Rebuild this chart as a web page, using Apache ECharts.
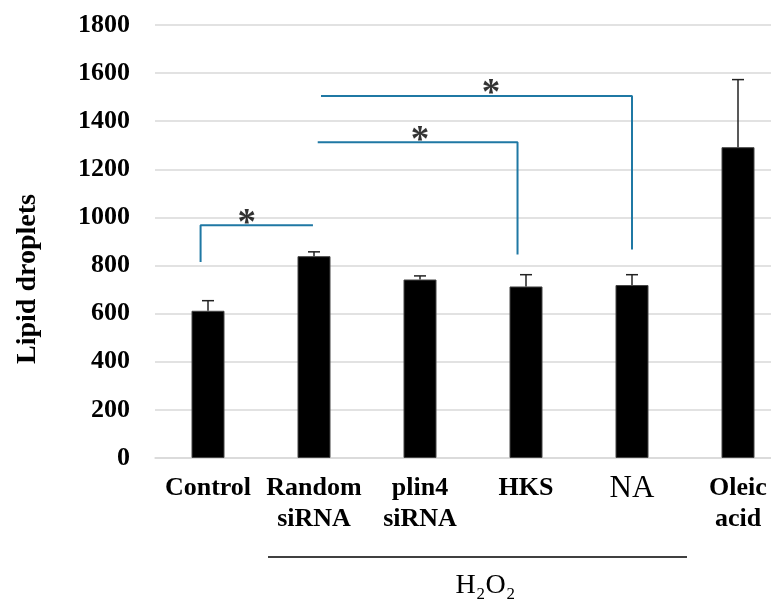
<!DOCTYPE html>
<html>
<head>
<meta charset="utf-8">
<script src="https://cdn.jsdelivr.net/npm/echarts@6/dist/echarts.min.js"></script>
<style>
  html, body { margin: 0; padding: 0; background: #fff; overflow: hidden; }
  /* plot area runs past the right edge in the original, so the canvas is a bit wider than the window */
  #chart { width: 791px; height: 607px; }
</style>
</head>
<body>
<div id="chart"></div>
<script>
const categories = ['Control', 'Random\nsiRNA', 'plin4\nsiRNA', 'HKS', 'NA', 'Oleic\nacid'];
const droplets = [612, 839, 742, 713, 719, 1292];
const errors = [42, 18, 15, 49, 43, 281];
const yTicks = { min: 0, max: 1800, interval: 200 };

// significance brackets, x in category units (0 = Control)
const bracketControl = [[-0.07, 815], [-0.07, 968], [0.99, 968]];
const bracketHKS = [[1.035, 1313], [2.92, 1313], [2.92, 846]];
const bracketNA = [[1.066, 1505], [4.0, 1505], [4.0, 867]];
const stars = [[0.365, 1009], [2.0, 1353], [2.67, 1548]];
const groupLabel = 'H₂O₂';

const serif = "'Liberation Serif', 'Times New Roman', serif";
const teal = '#1f78a4';

const chart = echarts.init(document.getElementById('chart'));

const bracketSeries = [bracketControl, bracketHKS, bracketNA].map(d => ({
  type: 'line',
  xAxisIndex: 1,
  data: d,
  symbol: 'none',
  lineStyle: { color: teal, width: 2 },
  silent: true,
  z: 4
}));

chart.setOption({
  animation: false,
  grid: { left: 155, top: 25, right: 0, bottom: 149 },
  xAxis: [
    {
      type: 'category',
      data: categories,
      axisLine: { lineStyle: { color: '#d9d9d9', width: 1.5 } },
      axisTick: { show: false },
      axisLabel: {
        interval: 0,
        margin: 15,
        fontFamily: serif,
        fontWeight: 'bold',
        fontSize: 26,
        lineHeight: 31,
        color: '#000',
        formatter: v => v === 'NA' ? '{na|NA}' : v,
        rich: { na: { fontFamily: serif, fontWeight: 'normal', fontSize: 31, color: '#000' } }
      }
    },
    { type: 'value', min: -0.5, max: 5.5, show: false }
  ],
  yAxis: {
    type: 'value',
    min: yTicks.min,
    max: yTicks.max,
    interval: yTicks.interval,
    axisLine: { show: false },
    axisTick: { show: false },
    axisLabel: {
      margin: 25,
      fontFamily: serif,
      fontWeight: 'bold',
      fontSize: 26,
      color: '#000',
      formatter: v => String(v)
    },
    splitLine: { lineStyle: { color: '#d9d9d9', width: 1.5 } }
  },
  series: [
    {
      type: 'bar',
      data: droplets,
      barWidth: 33,
      itemStyle: { color: '#000', borderColor: '#444', borderWidth: 1 },
      z: 2
    },
    {
      type: 'custom',
      data: droplets.map((v, i) => [i, v, errors[i]]),
      renderItem: (params, api) => {
        const top = api.coord([api.value(0), api.value(1)]);
        const end = api.coord([api.value(0), api.value(1) + api.value(2)]);
        const style = { stroke: '#222', lineWidth: 1.5 };
        return {
          type: 'group',
          children: [
            { type: 'line', shape: { x1: top[0], y1: top[1], x2: end[0], y2: end[1] }, style },
            { type: 'line', shape: { x1: end[0] - 6, y1: end[1], x2: end[0] + 6, y2: end[1] }, style }
          ]
        };
      },
      z: 3
    },
    ...bracketSeries,
    {
      type: 'scatter',
      xAxisIndex: 1,
      data: stars,
      symbolSize: 1,
      itemStyle: { color: 'transparent' },
      label: {
        show: true,
        position: 'inside',
        formatter: '*',
        fontFamily: serif,
        fontWeight: 'bold',
        fontSize: 37,
        color: '#000',
        offset: [0, 9]
      },
      z: 5
    }
  ]
});

// group line under the H2O2-treated categories and its label
const left = chart.convertToPixel({ xAxisIndex: 0 }, categories[1]) - 46;
const right = chart.convertToPixel({ xAxisIndex: 0 }, categories[4]) + 55;
const base = chart.convertToPixel({ yAxisIndex: 0 }, 0);
chart.setOption({
  graphic: [
    {
      type: 'line',
      shape: { x1: left, y1: base + 99, x2: right, y2: base + 99 },
      style: { stroke: '#000', lineWidth: 1.5 }
    },
    {
      type: 'text',
      x: (left + right) / 2 + 8,
      y: base + 128,
      style: {
        text: groupLabel,
        font: '28px ' + serif,
        fill: '#000',
        align: 'center',
        verticalAlign: 'middle'
      }
    },
    {
      type: 'text',
      x: 28,
      y: 279,
      rotation: Math.PI / 2,
      style: {
        text: 'Lipid droplets',
        font: 'bold 28px ' + serif,
        fill: '#000',
        align: 'center',
        verticalAlign: 'middle'
      }
    }
  ]
});
</script>
</body>
</html>
